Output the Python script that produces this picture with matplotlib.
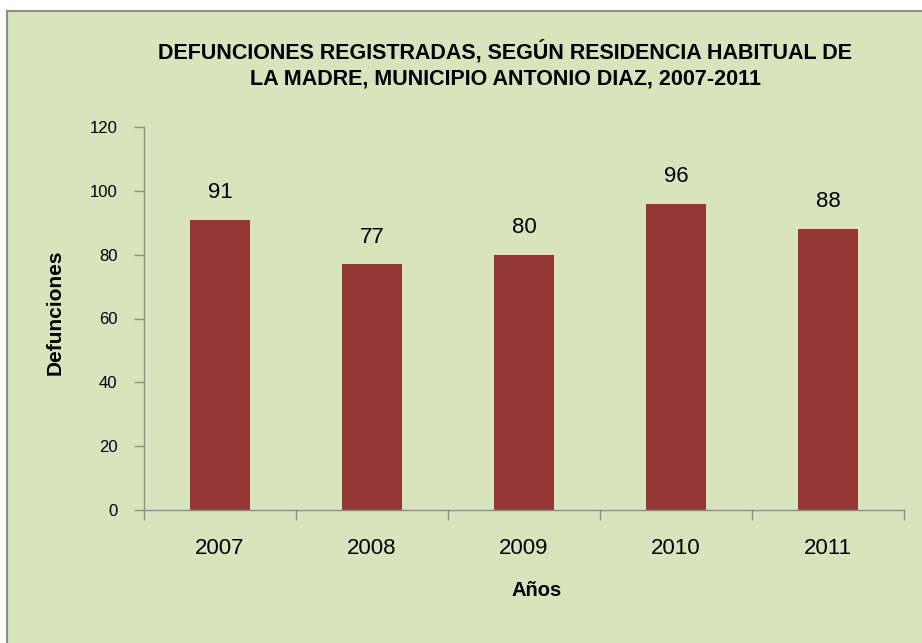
import matplotlib
matplotlib.use("Agg")
import matplotlib.pyplot as plt
from matplotlib.patches import Rectangle

years = ["2007", "2008", "2009", "2010", "2011"]
defunciones = [91, 77, 80, 96, 88]
yticks = [0, 20, 40, 60, 80, 100, 120]

FONT = "Liberation Sans"

W, H = 922, 643
fig = plt.figure(figsize=(W / 100, H / 100), dpi=100)
fig.patch.set_facecolor("white")
bg = "#D8E4BC"
fig.patches.append(Rectangle((7 / W, -0.01), 1, 1.01 - 11 / H, transform=fig.transFigure,
                             facecolor=bg, edgecolor="#8C8C8C", linewidth=1.5, zorder=-5))

ax = fig.add_axes([144 / W, 1 - 510 / H, (904 - 144) / W, (510 - 127) / H])
ax.set_facecolor("none")
ax.set_zorder(2)
x = list(range(len(years)))
ax.bar(x, defunciones, width=0.395, color="#953735", zorder=2)
ax.set_xlim(-0.5, len(years) - 0.5)
ax.set_ylim(0, 120)
ax.set_yticks(yticks)
ax.set_yticklabels([str(v) for v in yticks], fontsize=12, family=FONT)
ax.set_xticks(x)
ax.set_xticklabels(years, fontsize=16, family=FONT)
ax.tick_params(axis="x", length=0, pad=20)
ax.set_xticks([i - 0.5 for i in range(len(years) + 1)], minor=True)
ax.tick_params(axis="x", which="minor", length=7, color="#8C8C8C", width=1)
ax.tick_params(axis="y", length=7, color="#8C8C8C", width=1, pad=12)
for s in ["top", "right"]:
    ax.spines[s].set_visible(False)
for s in ["left", "bottom"]:
    ax.spines[s].set_color("#8C8C8C")
    ax.spines[s].set_linewidth(1)

for xi, v in zip(x, defunciones):
    ax.annotate(str(v), (xi, v), xytext=(0, 12), textcoords="offset points",
                ha="center", va="bottom", fontsize=16, family=FONT)

fig.text(55 / W, 1 - 312 / H, "Defunciones", rotation=90, ha="center", va="center",
         fontsize=15, fontweight="bold", family=FONT)
fig.text(537 / W, 1 - 591 / H, "Años", ha="center", va="center",
         fontsize=14.5, fontweight="bold", family=FONT)

fig.text(505 / W, 1 - 65 / H,
         "DEFUNCIONES REGISTRADAS, SEGÚN RESIDENCIA HABITUAL DE\nLA MADRE, MUNICIPIO ANTONIO DIAZ, 2007-2011",
         ha="center", va="center", fontsize=15.5, fontweight="bold", family=FONT, linespacing=1.3)

fig.savefig("out.png", dpi=100, facecolor=fig.get_facecolor())
